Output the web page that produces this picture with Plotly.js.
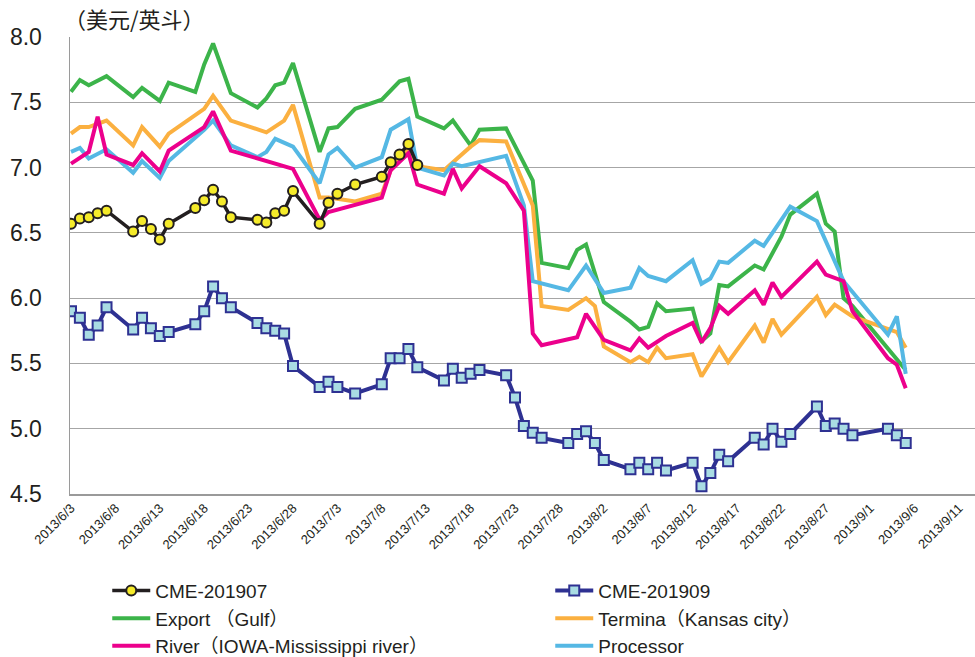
<!DOCTYPE html>
<html>
<head>
<meta charset="utf-8">
<script src="https://cdn.plot.ly/plotly-3.0.1.min.js"></script>
<style>
html,body{margin:0;padding:0;background:#fff;}
#chart{width:975px;height:657px;}
</style>
</head>
<body>
<div id="chart"></div>
<script>
// ---- data (USD / bushel) ----
const cme07Dates = ["2013-06-03","2013-06-04","2013-06-05","2013-06-06","2013-06-07","2013-06-10","2013-06-11","2013-06-12","2013-06-13","2013-06-14","2013-06-17","2013-06-18","2013-06-19","2013-06-20","2013-06-21","2013-06-24","2013-06-25","2013-06-26","2013-06-27","2013-06-28","2013-07-01","2013-07-02","2013-07-03","2013-07-05","2013-07-08","2013-07-09","2013-07-10","2013-07-11","2013-07-12"];
const cme07Values = [6.57,6.61,6.62,6.65,6.67,6.51,6.59,6.53,6.45,6.57,6.69,6.75,6.83,6.74,6.62,6.60,6.58,6.65,6.67,6.82,6.57,6.73,6.80,6.87,6.93,7.04,7.10,7.18,7.02];

const cme09Dates = ["2013-06-03","2013-06-04","2013-06-05","2013-06-06","2013-06-07","2013-06-10","2013-06-11","2013-06-12","2013-06-13","2013-06-14","2013-06-17","2013-06-18","2013-06-19","2013-06-20","2013-06-21","2013-06-24","2013-06-25","2013-06-26","2013-06-27","2013-06-28","2013-07-01","2013-07-02","2013-07-03","2013-07-05","2013-07-08","2013-07-09","2013-07-10","2013-07-11","2013-07-12","2013-07-15","2013-07-16","2013-07-17","2013-07-18","2013-07-19","2013-07-22","2013-07-23","2013-07-24","2013-07-25","2013-07-26","2013-07-29","2013-07-30","2013-07-31","2013-08-01","2013-08-02","2013-08-05","2013-08-06","2013-08-07","2013-08-08","2013-08-09","2013-08-12","2013-08-13","2013-08-14","2013-08-15","2013-08-16","2013-08-19","2013-08-20","2013-08-21","2013-08-22","2013-08-23","2013-08-26","2013-08-27","2013-08-28","2013-08-29","2013-08-30","2013-09-03","2013-09-04","2013-09-05"];
const cme09Values = [5.90,5.85,5.72,5.79,5.93,5.76,5.85,5.77,5.71,5.74,5.80,5.90,6.09,6.00,5.93,5.81,5.77,5.75,5.73,5.48,5.32,5.36,5.32,5.27,5.34,5.54,5.54,5.61,5.47,5.37,5.46,5.39,5.42,5.45,5.41,5.24,5.02,4.97,4.93,4.89,4.96,4.98,4.89,4.76,4.69,4.74,4.69,4.74,4.68,4.74,4.56,4.66,4.80,4.75,4.93,4.88,5.00,4.90,4.96,5.17,5.02,5.04,5.00,4.95,5.00,4.95,4.89];

const exportDates = ["2013-06-03","2013-06-04","2013-06-05","2013-06-07","2013-06-10","2013-06-11","2013-06-13","2013-06-14","2013-06-17","2013-06-18","2013-06-19","2013-06-21","2013-06-24","2013-06-25","2013-06-26","2013-06-27","2013-06-28","2013-07-01","2013-07-02","2013-07-03","2013-07-05","2013-07-08","2013-07-10","2013-07-11","2013-07-12","2013-07-15","2013-07-16","2013-07-18","2013-07-19","2013-07-22","2013-07-25","2013-07-26","2013-07-29","2013-07-30","2013-07-31","2013-08-02","2013-08-05","2013-08-06","2013-08-07","2013-08-08","2013-08-09","2013-08-12","2013-08-13","2013-08-14","2013-08-15","2013-08-16","2013-08-19","2013-08-20","2013-08-22","2013-08-23","2013-08-26","2013-08-27","2013-08-28","2013-08-29","2013-08-30","2013-09-05"];
const exportValues = [7.58,7.67,7.63,7.70,7.54,7.61,7.51,7.65,7.58,7.79,7.95,7.57,7.46,7.53,7.63,7.65,7.80,7.12,7.30,7.31,7.45,7.52,7.66,7.68,7.39,7.30,7.36,7.17,7.29,7.30,6.90,6.27,6.23,6.37,6.41,5.97,5.82,5.76,5.78,5.96,5.90,5.92,5.67,5.73,6.10,6.09,6.25,6.22,6.47,6.64,6.80,6.57,6.51,6.00,5.94,5.45];

const terminaDates = ["2013-06-03","2013-06-04","2013-06-05","2013-06-07","2013-06-10","2013-06-11","2013-06-13","2013-06-14","2013-06-18","2013-06-19","2013-06-21","2013-06-25","2013-06-27","2013-06-28","2013-07-01","2013-07-02","2013-07-05","2013-07-08","2013-07-09","2013-07-11","2013-07-12","2013-07-15","2013-07-18","2013-07-19","2013-07-22","2013-07-25","2013-07-26","2013-07-29","2013-07-31","2013-08-01","2013-08-02","2013-08-05","2013-08-06","2013-08-07","2013-08-08","2013-08-09","2013-08-12","2013-08-13","2013-08-15","2013-08-16","2013-08-19","2013-08-20","2013-08-21","2013-08-22","2013-08-26","2013-08-27","2013-08-28","2013-08-30","2013-09-04","2013-09-05"];
const terminaValues = [7.26,7.31,7.31,7.36,7.17,7.31,7.16,7.26,7.45,7.55,7.36,7.27,7.36,7.48,6.77,6.77,6.74,6.80,6.98,7.15,7.01,6.98,7.16,7.21,7.20,6.71,5.94,5.91,6.00,5.94,5.63,5.51,5.55,5.51,5.62,5.54,5.57,5.40,5.62,5.51,5.79,5.66,5.84,5.72,6.01,5.87,5.95,5.86,5.74,5.62];

const riverDates = ["2013-06-03","2013-06-05","2013-06-06","2013-06-07","2013-06-10","2013-06-11","2013-06-13","2013-06-14","2013-06-18","2013-06-19","2013-06-21","2013-06-25","2013-06-28","2013-07-01","2013-07-02","2013-07-08","2013-07-09","2013-07-11","2013-07-12","2013-07-15","2013-07-16","2013-07-17","2013-07-19","2013-07-22","2013-07-24","2013-07-25","2013-07-26","2013-07-30","2013-07-31","2013-08-02","2013-08-05","2013-08-06","2013-08-07","2013-08-09","2013-08-12","2013-08-13","2013-08-14","2013-08-15","2013-08-16","2013-08-19","2013-08-20","2013-08-21","2013-08-22","2013-08-26","2013-08-27","2013-08-29","2013-08-30","2013-09-03","2013-09-04","2013-09-05"];
const riverValues = [7.03,7.12,7.39,7.10,7.02,7.11,6.97,7.13,7.31,7.43,7.13,7.05,6.99,6.60,6.66,6.77,6.98,7.11,6.87,6.80,6.99,6.84,7.01,6.88,6.67,5.73,5.64,5.70,5.88,5.68,5.60,5.69,5.62,5.71,5.81,5.66,5.77,5.94,5.88,6.06,5.95,6.12,6.01,6.28,6.18,6.13,5.90,5.54,5.49,5.31];

const processorDates = ["2013-06-03","2013-06-04","2013-06-05","2013-06-07","2013-06-10","2013-06-11","2013-06-13","2013-06-14","2013-06-18","2013-06-19","2013-06-21","2013-06-24","2013-06-25","2013-06-26","2013-06-28","2013-07-01","2013-07-02","2013-07-03","2013-07-05","2013-07-08","2013-07-09","2013-07-11","2013-07-12","2013-07-15","2013-07-16","2013-07-17","2013-07-22","2013-07-24","2013-07-25","2013-07-29","2013-07-31","2013-08-02","2013-08-05","2013-08-06","2013-08-07","2013-08-09","2013-08-12","2013-08-13","2013-08-14","2013-08-15","2013-08-16","2013-08-19","2013-08-20","2013-08-23","2013-08-26","2013-08-29","2013-09-03","2013-09-04","2013-09-05"];
const processorValues = [7.12,7.15,7.07,7.14,6.96,7.05,6.92,7.05,7.29,7.36,7.17,7.08,7.12,7.22,7.16,6.88,7.10,7.15,7.00,7.08,7.29,7.37,7.00,6.94,7.03,7.01,7.09,6.71,6.13,6.06,6.25,6.04,6.08,6.23,6.17,6.13,6.29,6.11,6.15,6.28,6.27,6.44,6.40,6.70,6.59,6.13,5.72,5.86,5.42];

const seriesNames = ["CME-201907","CME-201909","Export （Gulf）","Termina（Kansas city）","River（IOWA-Mississippi river）","Processor"];
const yTicks = [4.5,5.0,5.5,6.0,6.5,7.0,7.5,8.0];
const unitLabel = "（美元/英斗）";

const FONT = "Liberation Sans, Arial, 'Noto Sans CJK SC', sans-serif";

const traces = [
  {x: exportDates, y: exportValues, name: seriesNames[2], legendrank: 3, mode: "lines",
   line: {color: "#3cb44a", width: 4}},
  {x: terminaDates, y: terminaValues, name: seriesNames[3], legendrank: 4, mode: "lines",
   line: {color: "#fbb040", width: 4}},
  {x: processorDates, y: processorValues, name: seriesNames[5], legendrank: 6, mode: "lines",
   line: {color: "#55b8e4", width: 4}},
  {x: riverDates, y: riverValues, name: seriesNames[4], legendrank: 5, mode: "lines",
   line: {color: "#ec008c", width: 4}},
  {x: cme09Dates, y: cme09Values, name: seriesNames[1], legendrank: 2, mode: "lines+markers",
   line: {color: "#2e3192", width: 4},
   marker: {symbol: "square", size: 10, color: "#a9dce3", line: {color: "#2e3192", width: 2}}},
  {x: cme07Dates, y: cme07Values, name: seriesNames[0], legendrank: 1, mode: "lines+markers",
   line: {color: "#231f20", width: 3.5},
   marker: {symbol: "circle", size: 10, color: "#f5eb2a", line: {color: "#231f20", width: 2}}}
];

const plotW = 905, pxPerDay = 8.88, day = 86400000;
const t0 = Date.UTC(2013,5,3) - (1/pxPerDay)*day;
const t1 = t0 + plotW/pxPerDay*day;
function iso(ms){ return new Date(ms).toISOString().replace("T"," ").slice(0,19); }

const layout = {
  width: 975, height: 657,
  margin: {l: 70, r: 0, t: 37, b: 163},
  paper_bgcolor: "#ffffff", plot_bgcolor: "#ffffff",
  font: {family: FONT, color: "#231f20"},
  showlegend: true,
  xaxis: {
    type: "date", range: [iso(t0), iso(t1)], automargin: false,
    tick0: "2013-06-03", dtick: 5*day, tickformat: "%Y/%-m/%-d",
    tickangle: -45, tickfont: {size: 13, family: FONT, color: "#231f20"},
    showgrid: false, zeroline: false,
    showline: true, linecolor: "#9a9a9a", linewidth: 1.5,
    ticks: "", fixedrange: true
  },
  yaxis: {
    range: [4.5, 8.0], tickvals: yTicks, ticktext: yTicks.map(v => v.toFixed(1)),
    automargin: false,
    tickfont: {size: 23, family: FONT, color: "#231f20"},
    showgrid: true, gridcolor: "#a6a6a6", gridwidth: 1.2,
    zeroline: false, showline: true, linecolor: "#9a9a9a", linewidth: 1.5,
    ticks: "", ticklabelstandoff: 22
  },
  legend: {
    orientation: "h", xref: "container", yref: "container",
    x: 0.11, xanchor: "left", y: 0.13, yanchor: "top",
    entrywidth: 390, entrywidthmode: "pixels",
    font: {size: 19, family: FONT, color: "#231f20"},
    bgcolor: "rgba(0,0,0,0)", itemwidth: 38, tracegroupgap: 0
  },
  annotations: [{
    text: unitLabel, xref: "paper", yref: "paper",
    x: -0.009, y: 1.042, xanchor: "left", yanchor: "middle", showarrow: false,
    font: {size: 22, family: "'Noto Sans CJK SC', sans-serif", color: "#231f20"}
  }]
};

Plotly.newPlot("chart", traces, layout, {displayModeBar: false, staticPlot: true});
</script>
</body>
</html>
